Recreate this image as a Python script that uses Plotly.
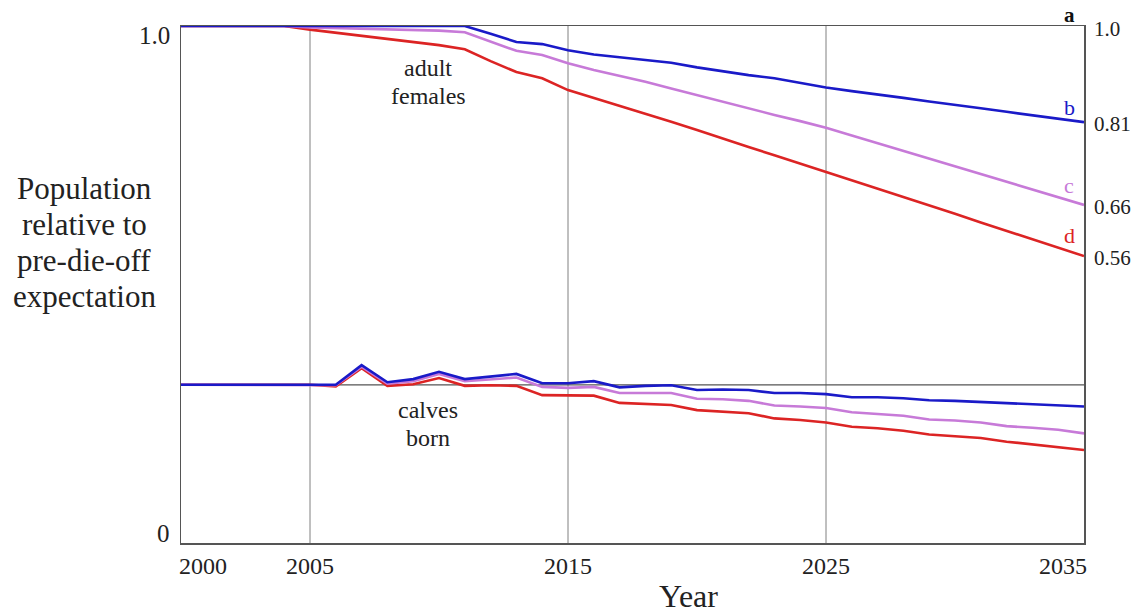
import plotly.graph_objects as go

years = list(range(2000, 2036))

# Adult females, relative to pre-die-off expectation
adult_b = [1.0]*12 + [0.985, 0.969, 0.965, 0.953, 0.945, 0.940, 0.935, 0.929, 0.920, 0.912,
                      0.905, 0.899, 0.890, 0.881, 0.874, 0.868, 0.861, 0.854, 0.848, 0.841,
                      0.834, 0.827, 0.821, 0.814]
adult_c = [1.0]*5 + [0.997, 0.996, 0.995, 0.994, 0.993, 0.991, 0.988, 0.970, 0.952, 0.944,
                     0.928, 0.915, 0.904, 0.892, 0.879, 0.866, 0.853, 0.840, 0.828, 0.816,
                     0.803, 0.788, 0.773, 0.758, 0.743, 0.729, 0.714, 0.699, 0.684, 0.669,
                     0.654]
adult_d = [1.0]*5 + [0.993, 0.987, 0.981, 0.975, 0.969, 0.963, 0.955, 0.932, 0.911, 0.899,
                     0.876, 0.861, 0.846, 0.831, 0.815, 0.799, 0.782, 0.766, 0.750, 0.734,
                     0.718, 0.702, 0.686, 0.669, 0.653, 0.637, 0.620, 0.604, 0.588, 0.571,
                     0.555]

# Calves born, in chart units (expectation line at 0.306)
calves_baseline = 0.306
calves_b = [0.306]*7 + [0.344, 0.311, 0.317, 0.331, 0.317, 0.322, 0.327, 0.309, 0.309, 0.313,
                        0.301, 0.304, 0.305, 0.296, 0.297, 0.296, 0.290, 0.290, 0.288, 0.282,
                        0.282, 0.280, 0.276, 0.275, 0.273, 0.270, 0.269, 0.267, 0.264]
calves_c = [0.306]*6 + [0.305, 0.341, 0.308, 0.313, 0.327, 0.313, 0.316, 0.320, 0.302, 0.300,
                        0.302, 0.290, 0.290, 0.290, 0.279, 0.278, 0.275, 0.266, 0.264, 0.261,
                        0.253, 0.250, 0.246, 0.239, 0.237, 0.233, 0.226, 0.223, 0.219, 0.212]
calves_d = [0.306]*6 + [0.303, 0.338, 0.304, 0.307, 0.319, 0.304, 0.305, 0.304, 0.286, 0.286,
                        0.285, 0.271, 0.269, 0.267, 0.257, 0.254, 0.251, 0.241, 0.238, 0.233,
                        0.225, 0.222, 0.217, 0.210, 0.207, 0.203, 0.196, 0.191, 0.186, 0.180]

end_labels = ["1.0", "0.81", "0.66", "0.56"]
end_values = [1.0, 0.814, 0.654, 0.555]
series_letters = ["a", "b", "c", "d"]
grid_years = [2005, 2015, 2025]
xtick_labels = ["2000", "2005", "2015", "2025", "2035"]
xtick_years = [2000, 2005, 2015, 2025, 2035]

BLUE = "#1a1ac8"
PURPLE = "#c77ad8"
RED = "#dc2424"
FONT = "Liberation Serif"

W, H = 1135, 613
L, R, T, B = 181, 51, 26, 70

def px(x):
    return (x - L) / (W - L - R)

def py(y):
    return 1 - (y - T) / (H - T - B)

fig = go.Figure()

for ys, c in [(calves_d, RED), (calves_c, PURPLE), (calves_b, BLUE),
              (adult_d, RED), (adult_c, PURPLE), (adult_b, BLUE)]:
    fig.add_trace(go.Scatter(x=years, y=ys, mode="lines",
                             line=dict(color=c, width=2.6), showlegend=False,
                             hoverinfo="skip"))

shapes = []
for gy in grid_years:
    shapes.append(dict(type="line", xref="x", yref="y", x0=gy, x1=gy, y0=0, y1=1,
                       line=dict(color="#808080", width=1), layer="below"))
shapes.append(dict(type="line", xref="x", yref="y", x0=2000, x1=2035,
                   y0=calves_baseline, y1=calves_baseline,
                   line=dict(color="#555555", width=1.2), layer="below"))

ann = []
# left y labels
ann.append(dict(x=px(172), y=py(36), xref="paper", yref="paper", text="1.0",
                showarrow=False, xanchor="right", yanchor="middle",
                font=dict(family=FONT, size=25, color="#222")))
ann.append(dict(x=px(172), y=py(533), xref="paper", yref="paper", text="0",
                showarrow=False, xanchor="right", yanchor="middle",
                font=dict(family=FONT, size=25, color="#222")))
# right end labels
for lab, v in zip(end_labels, end_values):
    ann.append(dict(x=2035, y=v, xref="x", yref="y", text=lab, showarrow=False,
                    xanchor="left", yanchor="middle", xshift=8,
                    yshift=(-3 if lab == "1.0" else -2),
                    font=dict(family=FONT, size=21, color="#222")))
# series letters
ann.append(dict(x=px(1069), y=py(15), xref="paper", yref="paper", text="<b>a</b>",
                showarrow=False, xanchor="center", yanchor="middle",
                font=dict(family=FONT, size=21, color="#111")))
for letter, yy, c in [("b", 107, BLUE), ("c", 185, PURPLE), ("d", 235, RED)]:
    ann.append(dict(x=px(1069), y=py(yy), xref="paper", yref="paper", text=letter,
                    showarrow=False, xanchor="center", yanchor="middle",
                    font=dict(family=FONT, size=22, color=c)))
# x tick labels
for lab, xv in zip(xtick_labels, xtick_years):
    shift = 0
    if xv == 2000:
        shift = 22
    if xv == 2035:
        shift = -21
    ann.append(dict(x=xv, y=py(566), xref="x", yref="paper", text=lab, showarrow=False,
                    xanchor="center", yanchor="middle", xshift=shift,
                    font=dict(family=FONT, size=24, color="#222")))
ann.append(dict(x=px(688), y=py(596), xref="paper", yref="paper", text="Year",
                showarrow=False, xanchor="center", yanchor="middle",
                font=dict(family=FONT, size=32, color="#222")))
# y title lines
for line, yy in [("Population", 188), ("relative to", 224), ("pre-die-off", 260),
                 ("expectation", 296)]:
    ann.append(dict(x=px(84), y=py(yy), xref="paper", yref="paper", text=line,
                    showarrow=False, xanchor="center", yanchor="middle",
                    font=dict(family=FONT, size=31, color="#222")))
# group labels
for line, yy in [("adult", 68), ("females", 96), ("calves", 410), ("born", 438)]:
    ann.append(dict(x=px(428), y=py(yy), xref="paper", yref="paper", text=line,
                    showarrow=False, xanchor="center", yanchor="middle",
                    font=dict(family=FONT, size=24, color="#222")))

fig.update_layout(
    width=W, height=H,
    margin=dict(l=L, r=R, t=T, b=B),
    paper_bgcolor="white", plot_bgcolor="white",
    shapes=shapes, annotations=ann, hovermode=False,
    xaxis=dict(range=[2000, 2035], showgrid=False, zeroline=False, showticklabels=False,
               ticks="", showline=True, mirror=True, linecolor="#555555", linewidth=1.5),
    yaxis=dict(range=[0, 1], showgrid=False, zeroline=False, showticklabels=False,
               ticks="", showline=True, mirror=True, linecolor="#555555", linewidth=1.5),
)

fig.write_html(
    "out.html",
    config={"displayModeBar": False, "staticPlot": True},
    post_script="document.body.style.margin='0px';document.body.style.overflow='hidden';",
)
